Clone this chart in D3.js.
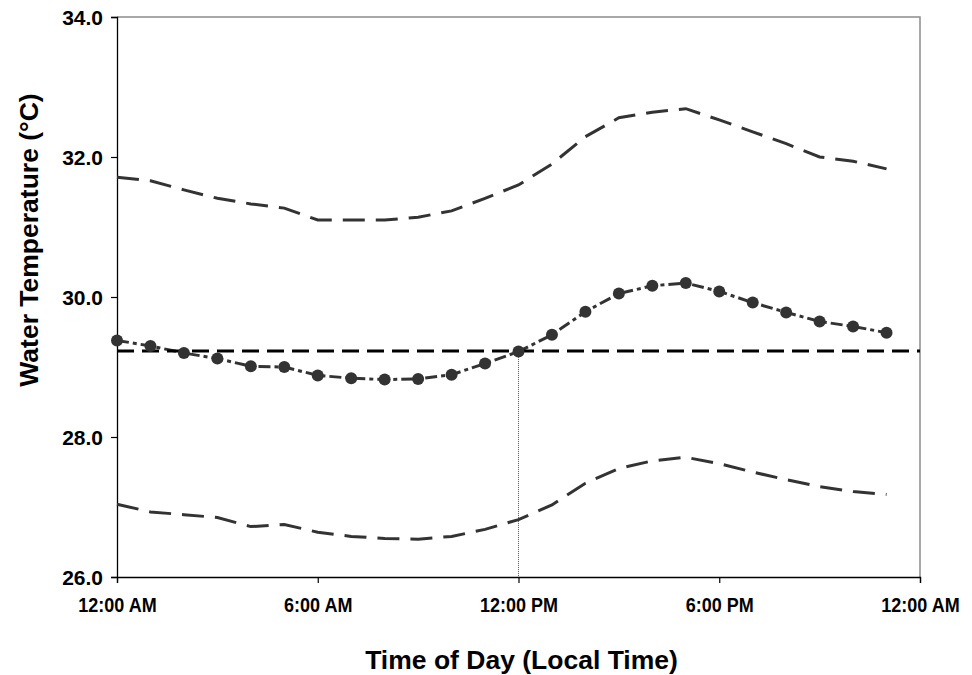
<!DOCTYPE html>
<html>
<head>
<meta charset="utf-8">
<script src="https://cdn.jsdelivr.net/npm/d3@7"></script>
<style>
  html, body { margin: 0; padding: 0; background: #fff; }
  svg { display: block; }
  text { font-family: "Liberation Sans", Arial, sans-serif; font-weight: bold; fill: #000; }
</style>
</head>
<body>
<svg id="chart" width="972" height="675"></svg>
<script>
// Hours of the day (local time)
const hours = d3.range(0, 24);
// Mean hourly water temperature (°C)
const meanTemp = [29.38, 29.30, 29.20, 29.12, 29.01, 29.00, 28.88, 28.84, 28.82, 28.83, 28.89, 29.05,
                  29.22, 29.46, 29.79, 30.05, 30.16, 30.20, 30.08, 29.92, 29.78, 29.65, 29.58, 29.49];
// Upper envelope
const upperTemp = [31.71, 31.66, 31.53, 31.41, 31.33, 31.27, 31.10, 31.10, 31.10, 31.14, 31.23, 31.41,
                   31.60, 31.90, 32.29, 32.56, 32.64, 32.69, 32.53, 32.36, 32.19, 32.00, 31.94, 31.83];
// Lower envelope
const lowerTemp = [27.04, 26.93, 26.89, 26.85, 26.72, 26.75, 26.64, 26.58, 26.55, 26.54, 26.58, 26.68,
                   26.82, 27.03, 27.34, 27.55, 27.66, 27.71, 27.62, 27.50, 27.39, 27.29, 27.22, 27.18];
// Daily mean reference
const dailyMean = 29.23;
const noonHour = 12;
// Axis ticks
const xTicks = [0, 6, 12, 18, 24];
const xTickLabels = ["12:00 AM", "6:00 AM", "12:00 PM", "6:00 PM", "12:00 AM"];
const yTicks = [26, 28, 30, 32, 34];

const W = 972, H = 675;
const margin = { top: 17, right: 52, bottom: 98, left: 117 };
const svg = d3.select("#chart");

const x = d3.scaleLinear().domain([0, 24]).range([margin.left, W - margin.right]);
const y = d3.scaleLinear().domain([26, 34]).range([H - margin.bottom, margin.top]);

// Frame (top and right, gray)
svg.append("path")
  .attr("d", `M${x(0)},${y(34)}H${x(24)}V${y(26)}`)
  .attr("fill", "none").attr("stroke", "#8c8c8c").attr("stroke-width", 1.5);

// Axes
const yAxis = d3.axisLeft(y).tickValues(yTicks).tickFormat(d3.format(".1f")).tickSize(6).tickPadding(8);
const xAxis = d3.axisBottom(x).tickValues(xTicks).tickFormat((d, i) => xTickLabels[i]).tickSize(6);

const gy = svg.append("g").attr("transform", `translate(${x(0)},0)`).call(yAxis);
const gx = svg.append("g").attr("transform", `translate(0,${y(26)})`).call(xAxis);
[gx, gy].forEach(g => {
  g.attr("font-family", null).attr("font-size", null);
  g.select(".domain").attr("stroke", "#000").attr("stroke-width", 1.3);
  g.selectAll(".tick line").attr("stroke", "#000").attr("stroke-width", 1.2);
  g.selectAll(".tick text").attr("fill", "#000");
});
gy.selectAll(".tick text").style("font-size", "21px").attr("dy", "0.35em");
gx.selectAll(".tick text").style("font-size", "20px")
  .attr("y", 35).attr("dy", null)
  .attr("transform", "scale(0.9,1)");

// Vertical dotted line at noon
svg.append("line")
  .attr("x1", x(noonHour)).attr("x2", x(noonHour))
  .attr("y1", y(dailyMean)).attr("y2", y(26))
  .attr("stroke", "#555").attr("stroke-width", 1).attr("stroke-dasharray", "1,1");

const line = d3.line().x((d, i) => x(hours[i])).y(d => y(d));

// Upper and lower envelopes
[upperTemp, lowerTemp].forEach(arr => {
  svg.append("path").datum(arr).attr("d", line)
    .attr("fill", "none").attr("stroke", "#333").attr("stroke-width", 3)
    .attr("stroke-dasharray", "22,11");
});

// Mean line (dash-dot)
svg.append("path").datum(meanTemp).attr("d", line)
  .attr("fill", "none").attr("stroke", "#333").attr("stroke-width", 3)
  .attr("stroke-dasharray", "12,4,4,4");

// Daily mean horizontal line
svg.append("line")
  .attr("x1", x(0)).attr("x2", x(24))
  .attr("y1", y(dailyMean)).attr("y2", y(dailyMean))
  .attr("stroke", "#000").attr("stroke-width", 3).attr("stroke-dasharray", "17,8");

// Mean markers
svg.append("g").selectAll("circle").data(meanTemp).join("circle")
  .attr("cx", (d, i) => x(hours[i])).attr("cy", d => y(d)).attr("r", 6)
  .attr("fill", "#333");

// Axis titles
svg.append("text")
  .attr("x", (x(0) + x(24)) / 2 + 3).attr("y", 669)
  .attr("text-anchor", "middle").style("font-size", "26.5px")
  .text("Time of Day (Local Time)");

svg.append("text")
  .attr("transform", `translate(38,240) rotate(-90)`)
  .attr("text-anchor", "middle").style("font-size", "26.5px")
  .text("Water Temperature (°C)");
</script>
</body>
</html>
